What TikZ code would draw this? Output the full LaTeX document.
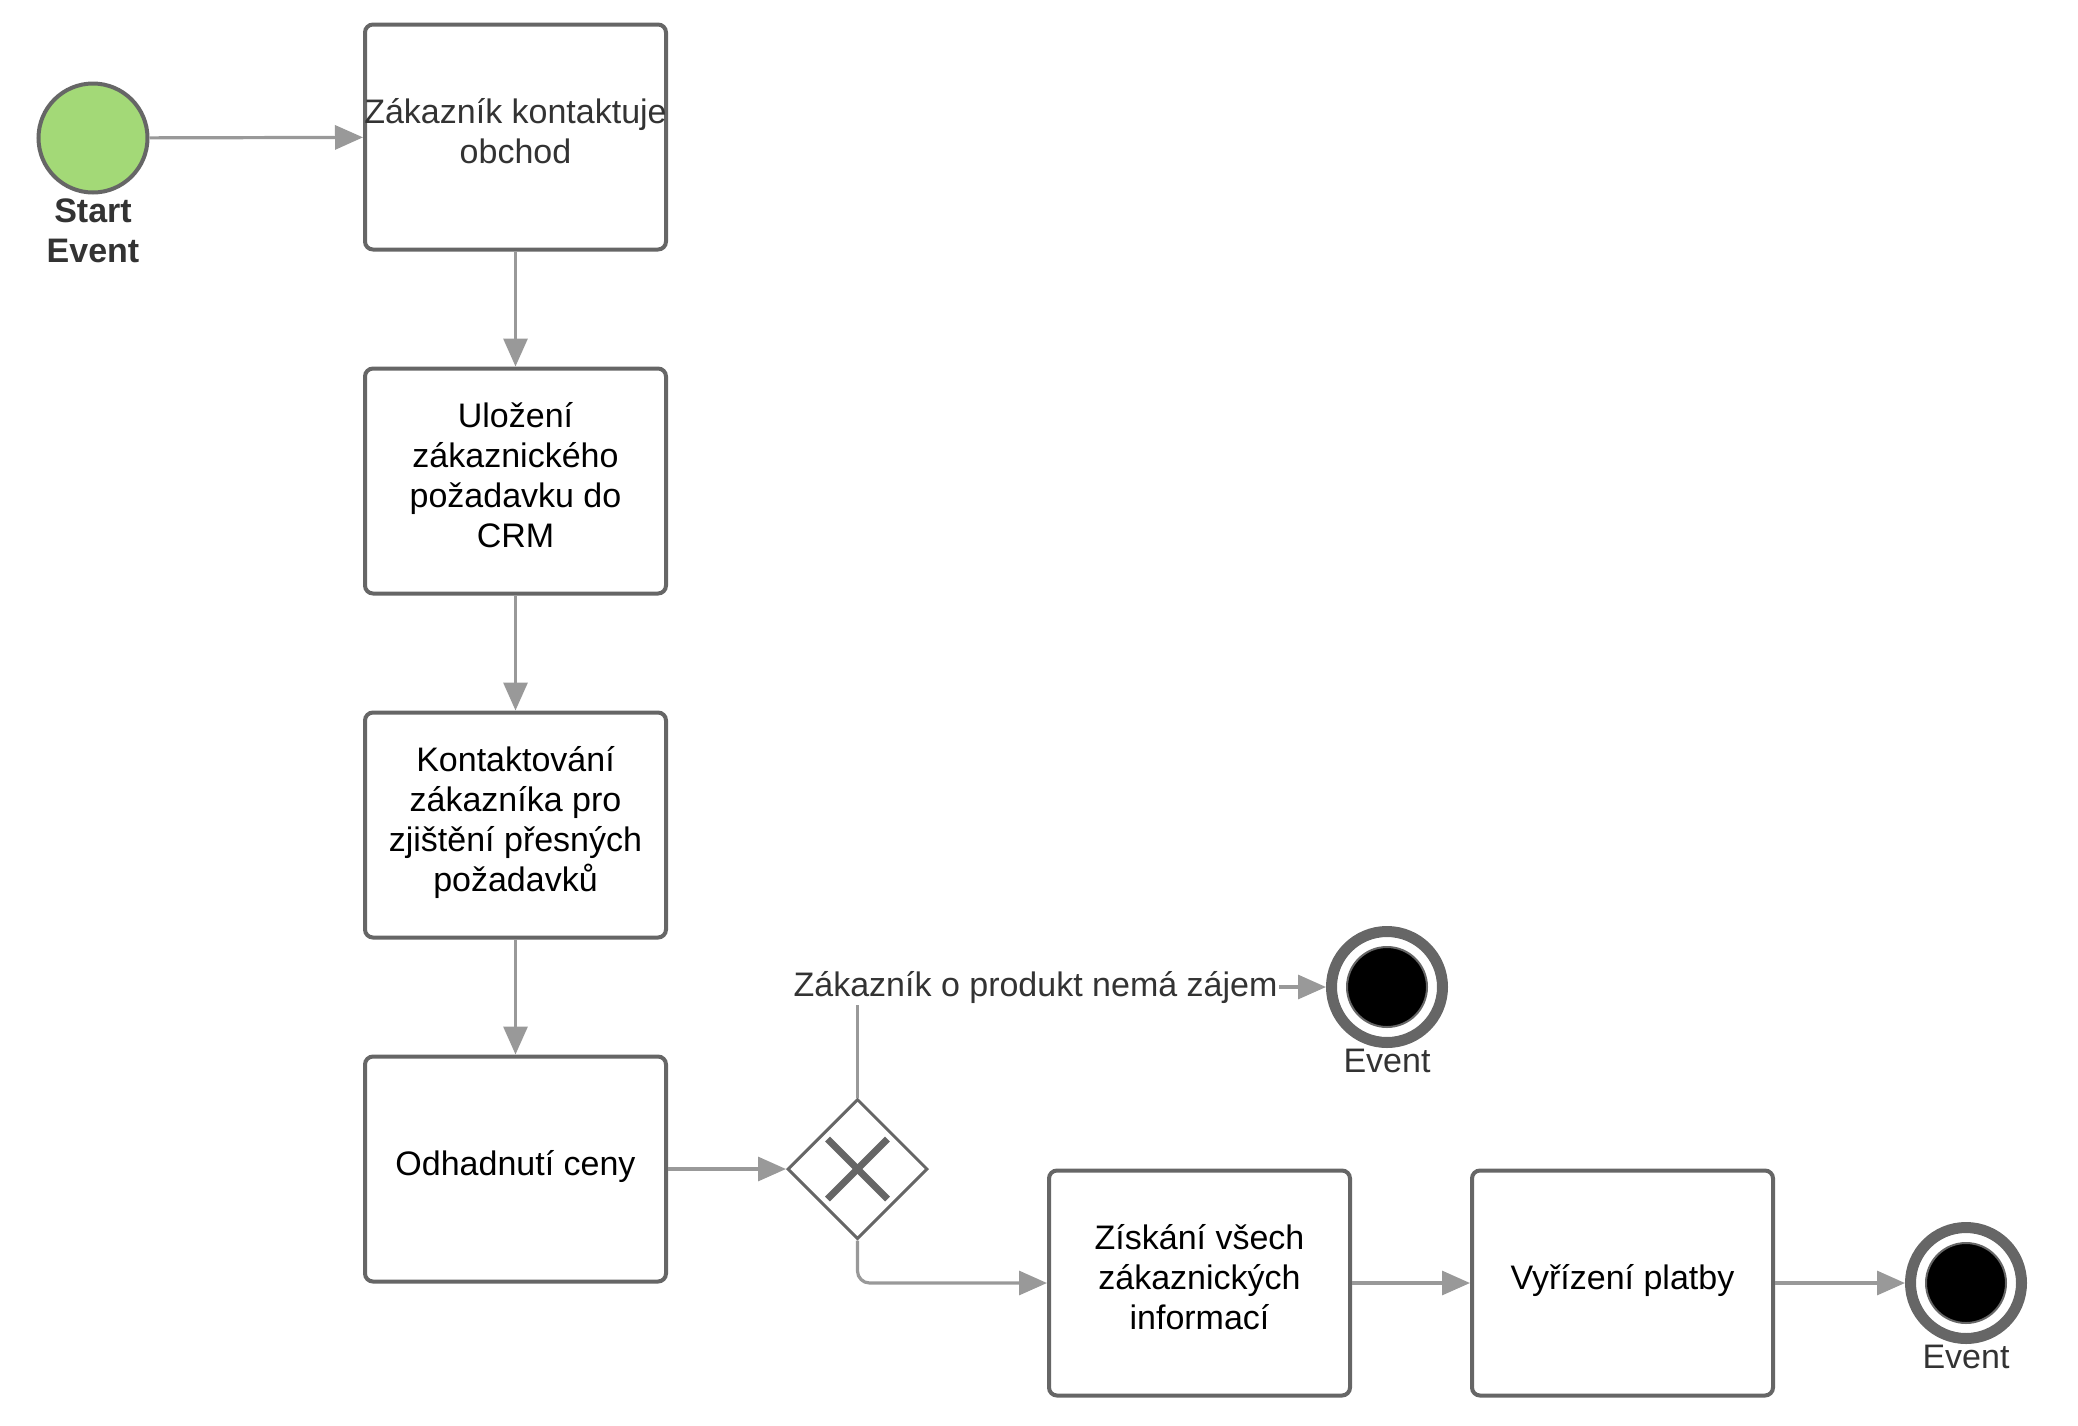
\documentclass[tikz,border=0pt]{standalone}
\usepackage{fontspec}
\setmainfont{Liberation Sans}
\usepackage{xcolor}
\usetikzlibrary{positioning,shapes.geometric,arrows.meta}
\definecolor{linegray}{RGB}{153,153,153}
\definecolor{bordergray}{RGB}{102,102,102}
\definecolor{textgray}{RGB}{51,51,51}
\definecolor{startgreen}{RGB}{163,217,119}

\begin{document}
\begin{tikzpicture}[font=\fontsize{17pt}{20pt}\selectfont, node distance=57.5pt]
    \tikzstyle{task}=[draw=bordergray,line width=2pt,rounded corners=4pt,minimum width=150.5pt,minimum height=112.5pt,align=center,inner sep=2pt,text depth=6pt]
    \tikzstyle{startev}=[circle,draw=bordergray,line width=2pt,fill=startgreen,minimum size=54.5pt,inner sep=0pt]
    \tikzstyle{endev}=[circle,draw=bordergray,line width=5.5pt,minimum size=55.5pt,inner sep=0pt,path picture={\fill[black,draw=bordergray,line width=1pt] (path picture bounding box.center) circle (20pt);}]
    \tikzstyle{xgate}=[diamond,aspect=1,draw=bordergray,line width=1.5pt,minimum width=70pt,minimum height=70pt,inner sep=0pt,path picture={
        \draw[bordergray,line width=3.5pt] ([shift={(-15pt,-15pt)}]path picture bounding box.center) -- ([shift={(15pt,15pt)}]path picture bounding box.center);
        \draw[bordergray,line width=3.5pt] ([shift={(-15pt,15pt)}]path picture bounding box.center) -- ([shift={(15pt,-15pt)}]path picture bounding box.center);}]
    \tikzstyle{flow}=[draw=linegray,line width=1.6pt,-{Triangle[length=14pt,width=12pt]}]
    \tikzstyle{evlabel}=[text=textgray,label distance=-3pt]

    \useasboundingbox (0pt,0pt) rectangle (1039pt,-712.5pt);

    % left column
    \node[startev,label={[evlabel,align=center,label distance=-1.5pt,font=\fontsize{17pt}{20pt}\selectfont\bfseries]below:Start\\Event}](start) at (46.5pt,-69pt){};
    \node[task,text=textgray](contact) at (257.75pt,-68.5pt){\makebox[140pt]{Zákazník kontaktuje}\\obchod};
    \node[task,below=of contact](savecrm){Uložení\\zákaznického\\požadavku do\\CRM};
    \node[task,below=of savecrm](clarify){Kontaktování\\zákazníka pro\\zjištění přesných\\požadavků};
    \node[task,below=of clarify](estimate){Odhadnutí ceny};

    % gateway and bottom row
    \node[xgate,right=59pt of estimate](gw){};
    \node[task,right=59pt of gw.east,yshift=-57pt](collect){Získání všech\\zákaznických\\informací};
    \node[task,right=59pt of collect](payment){Vyřízení platby};
    \node[endev,right=65pt of payment,label={[evlabel]below:Event}](endok){};
    \node[endev,label={[evlabel]below:Event}](endno) at (693.5pt,-493.5pt){};

    % flows
    \draw[flow] (start) -- (contact);
    \draw[flow] (contact) -- (savecrm);
    \draw[flow] (savecrm) -- (clarify);
    \draw[flow] (clarify) -- (estimate);
    \draw[flow] (estimate) -- (gw);
    \draw[flow] (gw.north) |- node[pos=0.69,fill=white,inner sep=1pt,text=textgray]{Zákazník o produkt nemá zájem} (endno.west);
    \draw[flow,rounded corners=6pt] (gw.south) |- (collect.west);
    \draw[flow] (collect) -- (payment);
    \draw[flow] (payment) -- (endok);

\end{tikzpicture}
\end{document}
